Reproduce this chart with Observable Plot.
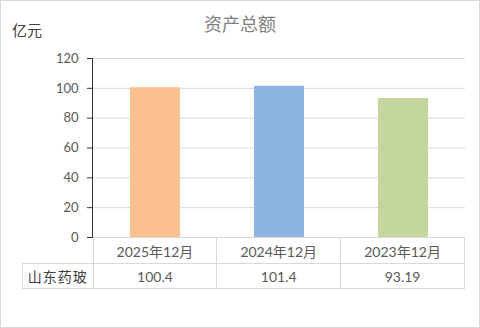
<!DOCTYPE html>
<html><head><meta charset="utf-8">
<script src="https://cdn.jsdelivr.net/npm/d3@7"></script>
<script src="https://cdn.jsdelivr.net/npm/@observablehq/plot@0.6"></script>
<style>
body{margin:0;background:#fff;}
#wrap{position:relative;width:480px;height:328px;overflow:hidden;font-family:Lato,"Noto Sans CJK SC",sans-serif;background:#fff;}
#border{position:absolute;left:0;top:0;width:480px;height:328px;box-sizing:border-box;border:1px solid #d9d9d9;pointer-events:none;}
#title{position:absolute;left:0;top:10px;width:480px;text-align:center;font-size:18px;line-height:26px;color:#7f7f7f;font-family:"Noto Sans CJK SC",sans-serif;}
#unit{position:absolute;left:12px;top:19px;font-size:15px;line-height:22px;color:#404040;font-family:"Noto Sans CJK SC",sans-serif;}
#chart{position:absolute;left:0;top:0;}
#tbl{position:absolute;left:22px;top:237px;border-collapse:collapse;table-layout:fixed;width:443px;color:#595959;font-size:14px;}
#tbl td{padding:0;text-align:center;border:1px solid #d9d9d9;white-space:nowrap;}
#tbl tr.h td{height:25px;}
#tbl tr.d td{height:24px;}
#tbl td.blank{border:none;}
#tbl td.name{letter-spacing:1px;font-family:"Noto Sans CJK SC",sans-serif;color:#404040;}
</style>
</head><body>
<div id="wrap">
  <div id="title"></div>
  <div id="unit"></div>
  <div id="chart"></div>
  <table id="tbl"></table>
  <div id="border"></div>
</div>
<script>
const title = "资产总额";
const unit = "亿元";
const seriesName = "山东药玻";
const categories = ["2025年12月", "2024年12月", "2023年12月"];
const values = [100.4, 101.4, 93.19];
const valueLabels = ["100.4", "101.4", "93.19"];
const yTicks = [0, 20, 40, 60, 80, 100, 120];
const palette = ["#FAC090", "#8DB4E2", "#C3D69B"];

const data = categories.map((c, i) => ({category: c, value: values[i]}));

document.getElementById("title").textContent = title;
document.getElementById("unit").textContent = unit;

const chart = Plot.plot({
  width: 480,
  height: 250,
  marginLeft: 92,
  marginRight: 15,
  marginTop: 58,
  marginBottom: 13,
  style: {fontSize: "13px", fontFamily: "Lato, 'Noto Sans CJK SC', sans-serif", color: "#595959", background: "transparent"},
  x: {domain: categories, paddingInner: 0.6, paddingOuter: 0.3, axis: null},
  y: {domain: [0, 120], ticks: yTicks},
  color: {domain: categories, range: palette},
  marks: [
    Plot.gridY(yTicks, {stroke: "#d9d9d9", strokeOpacity: 1}),
    Plot.barY(data, {x: "category", y: "value", fill: "category"}),
    Plot.axisY(yTicks, {tickSize: 5, tickPadding: 9, stroke: "#333", label: null, fill: "#595959"}),
    Plot.frame({anchor: "left", stroke: "#333"})
  ]
});
document.getElementById("chart").appendChild(chart);

const tbl = document.getElementById("tbl");
const hr = document.createElement("tr"); hr.className = "h";
const blank = document.createElement("td"); blank.className = "blank"; blank.style.width = "70px";
hr.appendChild(blank);
categories.forEach(c => { const td = document.createElement("td"); td.textContent = c; hr.appendChild(td); });
tbl.appendChild(hr);
const dr = document.createElement("tr"); dr.className = "d";
const nm = document.createElement("td"); nm.className = "name"; nm.textContent = seriesName;
dr.appendChild(nm);
valueLabels.forEach(v => { const td = document.createElement("td"); td.textContent = v; dr.appendChild(td); });
tbl.appendChild(dr);
</script>
</body></html>
